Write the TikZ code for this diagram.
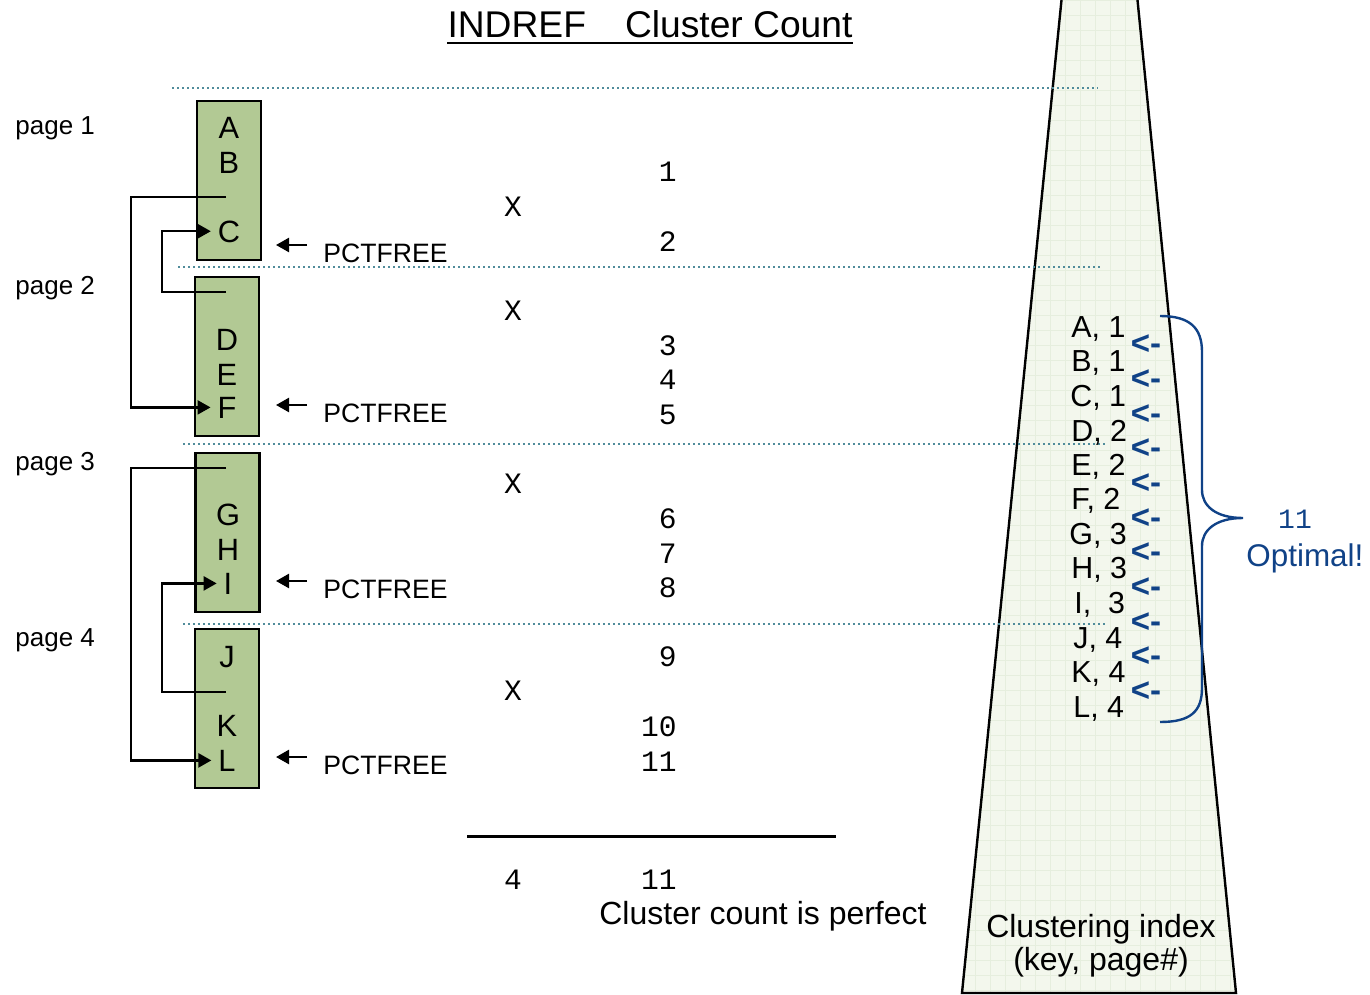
\documentclass[tikz,border=0pt]{standalone}
\usepackage{fontspec}
\setmainfont{Liberation Sans}
\newfontfamily\monofont{Liberation Mono}
\usetikzlibrary{arrows.meta}

\definecolor{boxgreen}{RGB}{178,201,148}
\definecolor{septeal}{RGB}{80,140,155}
\definecolor{idxfill}{RGB}{243,247,237}
\definecolor{idxgrid}{RGB}{230,238,222}
\definecolor{optblue}{RGB}{16,66,135}

\begin{document}
\begin{tikzpicture}[x=0.5pt,y=-0.5pt]

      \useasboundingbox (0,0) rectangle (1370,995);

      % clustering index
      \fill[idxfill] (1062,-5) -- (1137,-5) -- (1236,993) -- (962,993) -- cycle;
      \begin{scope}
        \clip (1062,-5) -- (1137,-5) -- (1236,993) -- (962,993) -- cycle;
        \draw[idxgrid,line width=0.4pt,step=7.5pt] (950,0) grid (1250,995);
      \end{scope}
      \draw[line width=1.2pt] (1062,-5) -- (1137,-5) -- (1236,993) -- (962,993) -- cycle;

      % page separators
      \begin{scope}[septeal,line width=1pt,dash pattern=on 1pt off 1.5pt]
        \draw (172,88)  -- (1098,88);
        \draw (178,267) -- (1103,267);
        \draw (183,444) -- (1107,444);
        \draw (183,624) -- (1108,624);
      \end{scope}

      \node[font=\fontsize{18.6}{21}\selectfont,anchor=base,inner sep=0pt] (title) at (650,38)
        {INDREF\hspace{1.05em}Cluster Count};
      \draw[line width=1.4pt] ([yshift=-2.5pt]title.base west) -- ([yshift=-2.5pt]title.base east);

      \begin{scope}[every node/.style={font=\fontsize{13}{15}\selectfont,anchor=base west,inner sep=0pt}]
        \node (pg1) at (15,134) {page 1};
        \node (pg2) at (15,294) {page 2};
        \node (pg3) at (15,470) {page 3};
        \node (pg4) at (15,646) {page 4};
      \end{scope}

      \begin{scope}[every node/.style={draw,line width=1.2pt,fill=boxgreen,minimum width=32pt,minimum height=79.5pt,inner sep=0pt}]
        \node (p1) at (229,180.5) {};
        \node (p2) at (227,356.5) {};
        \node (p3) at (227.5,532.5) {};
        \node (p4) at (227,708.5) {};
      \end{scope}

      \begin{scope}[every node/.style={font=\fontsize{15.4}{18}\selectfont,anchor=base,text depth=0pt}]
        \node (a) at (229,139) {A};
        \node (b) at (229,173) {B};
        \node (c) at (229,242) {C};
        \node (d) at (227,350) {D};
        \node (e) at (227,385) {E};
        \node (f) at (227,418) {F};
        \node (g) at (228,525) {G};
        \node (h) at (228,560) {H};
        \node (i) at (228,594) {I};
        \node (j) at (227,667) {J};
        \node (k) at (227,736) {K};
        \node (l) at (227,771) {L};
      \end{scope}

      \coordinate (out1) at (226,197);
      \coordinate (out2) at (226,292);
      \coordinate (out3) at (226,468);
      \coordinate (out4) at (226,692);

      \coordinate (free1) at (307,245);
      \coordinate (free2) at (307,405);
      \coordinate (free3) at (307,581);
      \coordinate (free4) at (307,757);
      \coordinate (edge1) at (276,245);
      \coordinate (edge2) at (276,405);
      \coordinate (edge3) at (276,581);
      \coordinate (edge4) at (276,757);

      \begin{scope}[line width=1.2pt,-{Triangle[length=6.5pt,width=7pt]}]
        \draw (out1) -- ++(-95,0) |- (f.west);
        \draw (out2) -- ++(-64,0) |- (c.west);
        \draw (out3) -- ++(-95,0) |- (l.west);
        \draw (out4) -- ++(-64,0) |- (i.west);
        \draw (free1) -- (edge1);
        \draw (free2) -- (edge2);
        \draw (free3) -- (edge3);
        \draw (free4) -- (edge4);
      \end{scope}

      \begin{scope}[every node/.style={font=\fontsize{13.3}{15}\selectfont,anchor=base west,inner sep=0pt}]
        \node (pf1) at (323,262) {PCTFREE};
        \node (pf2) at (323,422) {PCTFREE};
        \node (pf3) at (323,598) {PCTFREE};
        \node (pf4) at (323,774) {PCTFREE};
      \end{scope}

      \begin{scope}[every node/.style={font=\monofont\fontsize{14.8}{16}\selectfont,inner sep=0pt}]
        \node[anchor=base] (x1) at (513,216) {X};
        \node[anchor=base] (x2) at (513,320) {X};
        \node[anchor=base] (x3) at (513,493) {X};
        \node[anchor=base] (x4) at (513,700) {X};
        \node[anchor=base east] (n1)  at (677,181) {1};
        \node[anchor=base east] (n2)  at (677,251) {2};
        \node[anchor=base east] (n3)  at (677,355) {3};
        \node[anchor=base east] (n4)  at (677,389) {4};
        \node[anchor=base east] (n5)  at (677,424) {5};
        \node[anchor=base east] (n6)  at (677,528) {6};
        \node[anchor=base east] (n7)  at (677,563) {7};
        \node[anchor=base east] (n8)  at (677,597) {8};
        \node[anchor=base east] (n9)  at (677,666) {9};
        \node[anchor=base east] (n10) at (677,736) {10};
        \node[anchor=base east] (n11) at (677,771) {11};
        \node[anchor=base] (pages) at (513,889) {4};
        \node[anchor=base east] (count) at (677,889) {11};
      \end{scope}

      \draw[line width=1.5pt] (467,836) -- (836,836);

      \begin{scope}[every node/.style={font=\fontsize{16}{19}\selectfont,anchor=base,inner sep=0pt}]
        \node (verdict) at (763,924) {Cluster count is perfect};
        \node (idx1) at (1101,937) {Clustering index};
        \node (idx2) at (1101,970) {(key, page\#)};
      \end{scope}

      \begin{scope}[every node/.style={font=\fontsize{15.2}{17}\selectfont,anchor=base west,inner sep=0pt}]
        \node (ka) at (1071,337) {A, 1};
        \node (kb) at (1071,371) {B, 1};
        \node (kc) at (1070,406) {C, 1};
        \node (kd) at (1071,441) {D, 2};
        \node (ke) at (1071,475) {E, 2};
        \node (kf) at (1071,509) {F, 2};
        \node (kg) at (1069,544) {G, 3};
        \node (kh) at (1071,578) {H, 3};
        \node (ki) at (1074,613) {I, ~3};
        \node (kj) at (1073,648) {J, 4};
        \node (kk) at (1071,682) {K, 4};
        \node (kl) at (1073,717) {L, 4};
      \end{scope}

      \begin{scope}[every node/.style={optblue,font=\bfseries\fontsize{16.5}{18}\selectfont,anchor=base,inner sep=0pt}]
        \node (r1)  at (1146,354) {<-};
        \node (r2)  at (1146,389) {<-};
        \node (r3)  at (1146,424) {<-};
        \node (r4)  at (1146,458) {<-};
        \node (r5)  at (1146,493) {<-};
        \node (r6)  at (1146,528) {<-};
        \node (r7)  at (1146,562) {<-};
        \node (r8)  at (1146,597) {<-};
        \node (r9)  at (1146,632) {<-};
        \node (r10) at (1146,666) {<-};
        \node (r11) at (1146,701) {<-};
      \end{scope}

      \coordinate (bracetop) at (1160,316);
      \coordinate (bracetip) at (1243,518);
      \coordinate (bracebot) at (1160,722);
      \draw[optblue,line width=1.2pt] (bracetop)
        .. controls (1190,316) and (1202,328) .. (1202,352) -- (1202,490)
        .. controls (1202,506) and (1216,518) .. (bracetip)
        .. controls (1216,518) and (1202,530) .. (1202,546) -- (1202,688)
        .. controls (1202,712) and (1190,722) .. (bracebot);

      \node[optblue,font=\monofont\fontsize{14}{16}\selectfont,anchor=base,inner sep=0pt] (total) at (1295,528.5) {11};
      \node[optblue,font=\fontsize{15.7}{18}\selectfont,anchor=base west,inner sep=0pt] (optimal) at (1246,566) {Optimal!};

    \end{tikzpicture}
\end{document}
